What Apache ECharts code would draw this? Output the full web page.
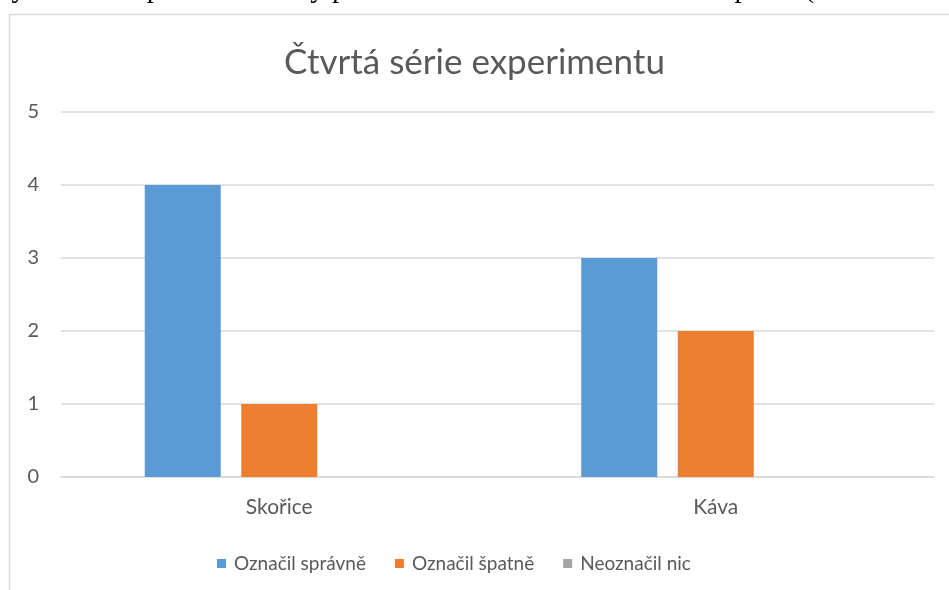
<!DOCTYPE html>
<html>
<head>
<meta charset="utf-8">
<script src="https://cdn.jsdelivr.net/npm/echarts@6/dist/echarts.min.js"></script>
<style>
  html, body { margin: 0; padding: 0; background: #fff; }
  #chartBox { width: 949px; height: 590px; }
</style>
</head>
<body>
<div id="chartBox"></div>
<script>
const categories = ["Skořice", "Káva"];
const seriesNames = ["Označil správně", "Označil špatně", "Neoznačil nic"];
const correct = [4, 3];
const wrong = [1, 2];
const nothing = [0, 0];
const yTicks = [0, 1, 2, 3, 4, 5];
const docLine = "vý označen správně čichový pach třikrát a dvakrát ne označen špatně (viz Graf";

const colors = ["#5b9bd5", "#ed7d31", "#a5a5a5"];
const font = "Lato, 'Open Sans', sans-serif";

const myChart = echarts.init(document.getElementById("chartBox"));
const option = {
  animation: false,
  color: colors,
  graphic: [
    {
      type: "rect",
      shape: { x: 9.5, y: 14.5, width: 960, height: 600 },
      style: { fill: "#fff", stroke: "#d9d9d9", lineWidth: 1.5 },
      z: -10
    },
    {
      type: "text",
      left: -3,
      top: -25,
      style: {
        text: docLine,
        font: "29px 'Liberation Serif', 'Times New Roman', serif",
        fill: "#000"
      }
    }
  ],
  title: {
    text: "Čtvrtá série experimentu",
    left: "center",
    top: 40,
    textStyle: { fontFamily: font, fontSize: 35, fontWeight: "normal", color: "#595959" }
  },
  legend: {
    bottom: 12,
    left: 212,
    itemWidth: 9,
    itemHeight: 9,
    itemGap: 29,
    icon: "rect",
    textStyle: { fontFamily: font, fontSize: 19, color: "#595959", padding: [0, 0, 0, 3] },
    data: seriesNames
  },
  grid: { left: 61, right: 15, top: 112, bottom: 113 },
  xAxis: {
    type: "category",
    data: categories,
    axisLine: { lineStyle: { color: "#d9d9d9", width: 1.5 } },
    axisTick: { show: false },
    axisLabel: { fontFamily: font, fontSize: 21, color: "#595959", margin: 20 }
  },
  yAxis: {
    type: "value",
    min: yTicks[0],
    max: yTicks[yTicks.length - 1],
    interval: 1,
    axisLine: { show: false },
    axisTick: { show: false },
    splitLine: { lineStyle: { color: "#d9d9d9", width: 1.5 } },
    axisLabel: { fontFamily: font, fontSize: 20, color: "#595959", margin: 22 }
  },
  series: [
    { name: seriesNames[0], type: "bar", data: correct, barWidth: 76, barGap: "27%" },
    { name: seriesNames[1], type: "bar", data: wrong, barWidth: 76, barGap: "27%" },
    { name: seriesNames[2], type: "bar", data: nothing, barWidth: 76, barGap: "27%" }
  ]
};
option && myChart.setOption(option);
</script>
</body>
</html>
